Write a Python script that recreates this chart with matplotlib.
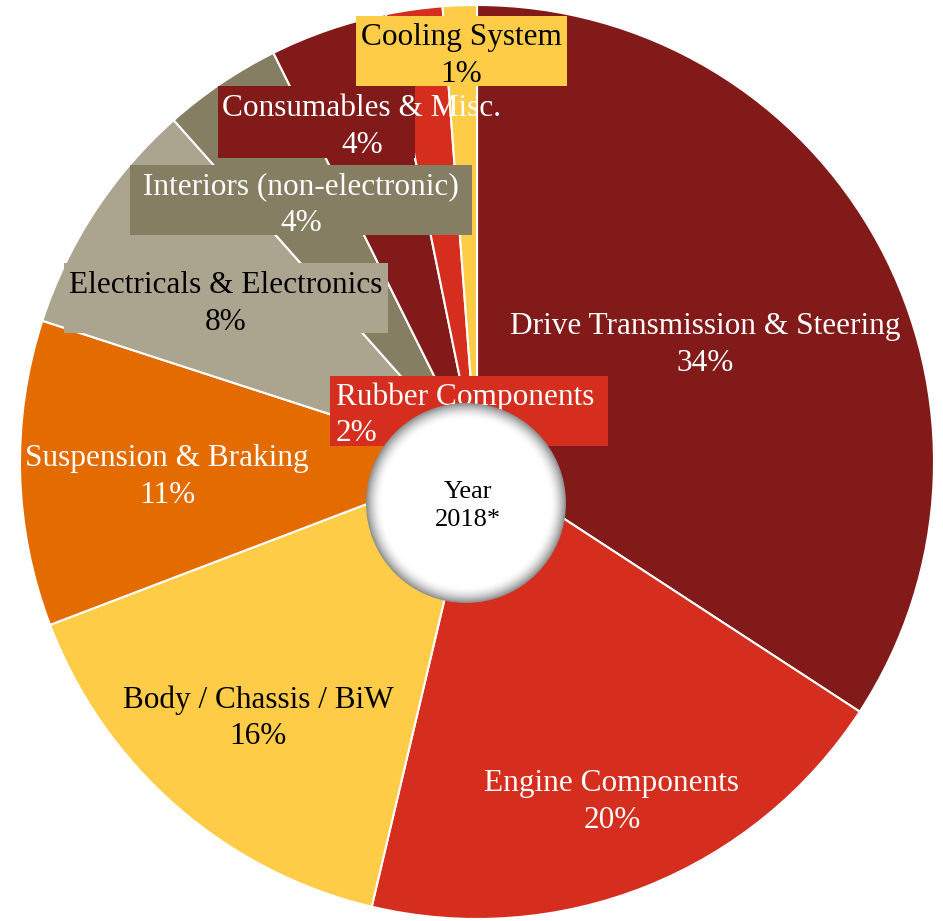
import numpy as np
import matplotlib
matplotlib.use("Agg")
import matplotlib.pyplot as plt
from matplotlib.patches import Circle

categories = ["Drive Transmission & Steering", "Engine Components", "Body / Chassis / BiW",
              "Suspension & Braking", "Electricals & Electronics", "Interiors (non-electronic)",
              "Consumables & Misc.", "Rubber Components", "Cooling System"]
values = [34.2, 19.5, 15.5, 10.8, 8.45, 4.2, 4.15, 2.0, 1.2]
colors = ["#821A1A", "#D52E1E", "#FFCC48", "#E36B00", "#ABA48F", "#867E62",
          "#821A1A", "#D52E1E", "#FFCC48"]
center_text = "Year\n2018*"

W, H = 943, 921
fig = plt.figure(figsize=(W/100, H/100), dpi=100)
ax = fig.add_axes([0, 0, 1, 1])

cx, cy, R = 477, H - 462, 457
wedges, _ = ax.pie(values, colors=colors, startangle=90, counterclock=False,
                   center=(cx, cy), radius=R, frame=True,
                   wedgeprops=dict(edgecolor="white", linewidth=1.5))
ax.set_xlim(0, W)
ax.set_ylim(0, H)
ax.set_aspect("equal")
ax.axis("off")

font = "Liberation Serif"
fs = 22.5
# label specs: (x, y(px from top), text color, box, ha)
specs = [
    (705, 345, "white", None, "center"),
    (612, 802, "white", None, "center"),
    (258, 718, "black", None, "center"),
    (167, 477, "white", None, "center"),
    (226, 304, "black", (64, 263, 388, 333), "center"),
    (301, 205, "white", (130, 165, 472, 235), "center"),
    (362, 127, "white", (218, 86, 415, 158), "center"),
    (336, 415, "white", (330, 376, 608, 446), "left"),
    (461, 56, "black", (356, 16, 567, 86), "center"),
]
for (name, v, col, (x, y, tc, box, ha)) in zip(categories, values, colors, specs):
    if box is not None:
        x0, y0, x1, y1 = box
        ax.add_patch(plt.Rectangle((x0, H - y1), x1 - x0, y1 - y0, facecolor=col,
                                   edgecolor="none", zorder=3))
    ax.text(x, H - y, f"{name}\n{v:.0f}%", ha=ha, va="center", color=tc, fontsize=fs,
            family=font, linespacing=1.33, zorder=4, multialignment=ha)

# center circle with soft shadow edge
ccx, ccy, cr = 466, H - 503, 100
n = 400
xs = np.linspace(ccx - cr, ccx + cr, n)
ys = np.linspace(ccy - cr, ccy + cr, n)
X, Y = np.meshgrid(xs, ys)
r = np.hypot(X - ccx, Y - ccy) / cr
val = np.clip((r - 0.84) / 0.16, 0, 1) ** 1.8
img = 1 - 0.45 * val
rgb = np.dstack([img, img, img])
im = ax.imshow(rgb, extent=(ccx - cr, ccx + cr, ccy - cr, ccy + cr), origin="lower",
               zorder=5, interpolation="bilinear")
clip = Circle((ccx, ccy), cr, transform=ax.transData)
im.set_clip_path(clip)
ax.set_xlim(0, W)
ax.set_ylim(0, H)
ax.text(ccx + 2, H - 506, center_text, ha="center", va="center", fontsize=19, family=font,
        color="black", linespacing=1.3, zorder=6)

fig.savefig("out.png", dpi=100, facecolor="white")
